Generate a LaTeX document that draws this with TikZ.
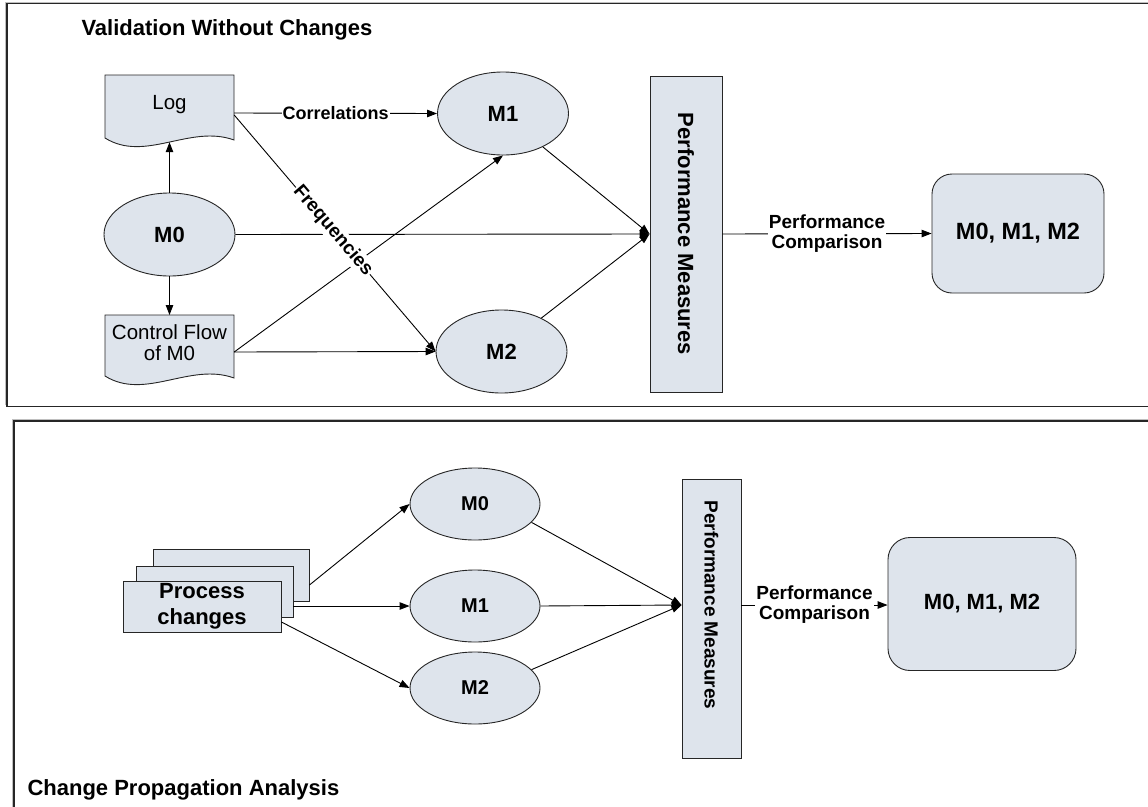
\documentclass[tikz,border=0pt]{standalone}
\usepackage{fontspec}
\setmainfont{Liberation Sans}
\usetikzlibrary{arrows.meta,shapes.geometric,calc}
\definecolor{boxfill}{RGB}{222,228,236}
\begin{document}
\begin{tikzpicture}[x=1pt,y=-1pt,
  shp/.style={draw=black!85, fill=boxfill, line width=0.9pt},
  ell/.style={shp, ellipse, minimum width=131pt, minimum height=83pt, inner sep=0pt, font=\bfseries\fontsize{22}{24}\selectfont},
  bell/.style={shp, ellipse, minimum width=130pt, minimum height=72pt, inner sep=0pt, font=\bfseries\fontsize{20}{22}\selectfont},
  doctext/.style={inner sep=0pt, align=center, font=\fontsize{20.5}{22}\selectfont},
  conn/.style={draw=black, line width=0.9pt, -{Triangle[length=10pt,width=7.5pt]}},
  lbl/.style={fill=white, inner sep=1pt, align=center, font=\bfseries\fontsize{19}{20}\selectfont},
  frame/.style={draw=black!85, line width=1.4pt},
  title/.style={anchor=base west, font=\bfseries\fontsize{22}{26}\selectfont}
]
\useasboundingbox (0,0) rectangle (1148,806);
% frames
\draw[gray!50, line width=1pt] (1149,2) -- (5.5,2) -- (5.5,405);
\draw[frame] (1149,3.5) -- (7,3.5) -- (7,406.5) -- (1149,406.5);
\draw[gray!50, line width=1pt] (1149,419.5) -- (12.5,419.5) -- (12.5,807);
\draw[frame] (1149,421) -- (14,421) -- (14,807);
% titles
\node[title] (t1) at (78,35) {Validation Without Changes};
\node[title] (t2) at (24,795) {Change Propagation Analysis};

% ---------- top panel ----------
\draw[shp] (105,75) -- (234,75) -- (234,140) .. controls (190,124) and (145,163) .. (105,138) -- cycle;
\node[doctext, minimum width=129pt, minimum height=60pt] (log) at (169.5,105) {Log};
\draw[shp] (105,315) -- (234,315) -- (234,378) .. controls (190,362) and (145,401) .. (105,376) -- cycle;
\node[doctext, minimum width=129pt, minimum height=56pt] (cf) at (169.5,343) {Control Flow\\[-1pt]of M0};

\node[ell] (m0) at (169.5,234.5) {M0};
\node[ell] (m1) at (503,113.5) {M1};
\node[ell] (m2) at (501.5,351.5) {M2};
\node[shp, minimum width=72pt, minimum height=316pt, inner sep=0pt] (pm) at (686,234) {};
\node[rotate=-90, font=\bfseries\fontsize{22}{24}\selectfont] (pmt) at (pm.center) {Performance Measures};
\node[shp, rounded corners=20pt, minimum width=172pt, minimum height=119pt, font=\bfseries\fontsize{23.5}{26}\selectfont] (res) at (1018,233.5) {M0, M1, M2};

\draw[conn] (m0.north) -- ([yshift=-7pt]log.south);
\draw[conn] (m0.south) -- (cf.north |- 0,315);
\draw[conn] ([yshift=-8pt]log.east) -- node[lbl, font=\bfseries\fontsize{18}{20}\selectfont]{Correlations} (m1.west);
\draw[conn] (m0.east) -- (pm.west);
\draw[conn] ([yshift=-9pt]cf.east) -- (m1.south);
\draw[conn] ([yshift=-9pt]cf.east) -- (m2.west);
\draw[conn] (m1.-40) -- (pm.west);
\draw[conn] (m2.40) -- (pm.west);
\draw[conn] ([yshift=-10pt]log.east) -- node[lbl, sloped, pos=0.49]{Frequencies} (m2.west);
\draw[conn] (pm.east) -- node[lbl]{Performance\\Comparison} (res.west);

% ---------- bottom panel ----------
\node[shp, minimum width=156pt, minimum height=52pt, inner sep=0pt] (pc3) at (231,575) {};
\node[shp, minimum width=157pt, minimum height=51pt, inner sep=0pt] (pc2) at (214.5,591.5) {};
\node[shp, minimum width=158pt, minimum height=51pt, inner sep=0pt, align=center, font=\bfseries\fontsize{22}{26}\selectfont] (pc1) at (202,606.5) {Process\\changes};

\node[bell] (bm0) at (475,504) {M0};
\node[bell] (bm1) at (475,606) {M1};
\node[bell] (bm2) at (475,688) {M2};
\node[shp, minimum width=59pt, minimum height=279pt, inner sep=0pt] (bpm) at (711.5,618.5) {};
\node[rotate=-90, font=\bfseries\fontsize{19}{21}\selectfont] (bpmt) at (711.5,605) {Performance Measures};
\node[shp, rounded corners=22pt, minimum width=188pt, minimum height=133pt, font=\bfseries\fontsize{22}{24}\selectfont] (bres) at (982,604) {M0, M1, M2};
\coordinate (bpmin) at ([yshift=13.5pt]bpm.west);
\coordinate (bpmout) at ([yshift=13.5pt]bpm.east);

\draw[conn] ([yshift=-10pt]pc3.east) -- (bm0.west);
\draw[conn] ([yshift=-14.5pt]pc2.east) -- (bm1.west);
\draw[conn] ([yshift=-15.5pt]pc1.east) -- (bm2.west);
\draw[conn] (bm0.-18) -- (bpmin);
\draw[conn] (bm1.east) -- (bpmin);
\draw[conn] (bm2.18) -- (bpmin);
\draw[conn] (bpmout) -- node[lbl]{Performance\\Comparison} (bres.west |- bpmout);
\end{tikzpicture}
\end{document}
